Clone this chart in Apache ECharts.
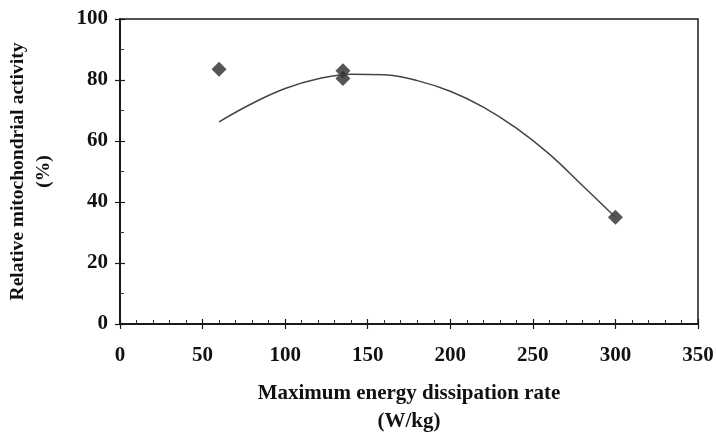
<!DOCTYPE html>
<html>
<head>
<meta charset="utf-8">
<script src="https://cdn.jsdelivr.net/npm/echarts@6/dist/echarts.min.js"></script>
<style>
  html, body { margin: 0; padding: 0; background: #fff; }
  #chart { width: 716px; height: 434px; }
</style>
</head>
<body>
<div id="chart"></div>
<script>
    // measured points (diamonds)
    var pointX = [60, 135, 135, 300];
    var pointY = [83.5, 83, 80.5, 35];
    // fitted trend curve
    var curveX = [60, 80, 100, 120, 140, 160, 180, 200, 220, 240, 260, 280, 300];
    var curveY = [66.3, 72.3, 77.2, 80.4, 81.9, 81.7, 79.8, 76.3, 71.1, 64.2, 55.7, 45.4, 35];
    var xTicks = [0, 50, 100, 150, 200, 250, 300, 350];
    var yTicks = [0, 20, 40, 60, 80, 100];

    var chart = echarts.init(document.getElementById('chart'));
    var axisColor = '#1a1a1a';
    var font = '"Liberation Serif", "DejaVu Serif", serif';

    var points = pointX.map(function (x, i) { return [x, pointY[i]]; });
    var curve = curveX.map(function (x, i) { return [x, curveY[i]]; });

    var xBase = {
        type: 'value',
        min: xTicks[0],
        max: xTicks[xTicks.length - 1],
        interval: 50,
        splitLine: { show: false }
    };
    var yBase = {
        type: 'value',
        min: yTicks[0],
        max: yTicks[yTicks.length - 1],
        interval: 20,
        splitLine: { show: false }
    };

    var option = {
        animation: false,
        grid: {
            left: 120, right: 18, top: 19, bottom: 110,
            outerBoundsMode: 'none',
            containLabel: false,
            show: true,
            borderColor: axisColor,
            borderWidth: 1.5
        },
        xAxis: [
            Object.assign({}, xBase, {
                position: 'bottom',
                name: 'Maximum energy dissipation rate\n(W/kg)',
                nameLocation: 'middle',
                nameGap: 56,
                nameTextStyle: {
                    fontFamily: font, fontWeight: 'bold', fontSize: 21,
                    color: '#111', lineHeight: 28
                },
                axisLine: { show: true, lineStyle: { color: axisColor, width: 2 } },
                axisTick: { show: true, inside: true, length: 5, lineStyle: { color: axisColor, width: 1.2 } },
                minorTick: { show: true, splitNumber: 5, length: 4, lineStyle: { color: '#333', width: 1 } },
                axisLabel: {
                    fontFamily: font, fontWeight: 'bold', fontSize: 21, color: '#111', margin: 21
                }
            }),
            Object.assign({}, xBase, {
                position: 'bottom',
                offset: 0,
                axisLine: { show: false },
                axisTick: { show: true, inside: false, length: 5, lineStyle: { color: axisColor, width: 1.2 } },
                axisLabel: { show: false }
            })
        ],
        yAxis: [
            Object.assign({}, yBase, {
                position: 'left',
                name: 'Relative mitochondrial activity\n(%)',
                nameLocation: 'middle',
                nameGap: 63,
                nameTextStyle: {
                    fontFamily: font, fontWeight: 'bold', fontSize: 19.5,
                    color: '#111', lineHeight: 26
                },
                axisLine: { show: true, lineStyle: { color: axisColor, width: 2 } },
                axisTick: { show: true, inside: true, length: 5, lineStyle: { color: axisColor, width: 1.2 } },
                minorTick: { show: true, splitNumber: 2, length: 4, lineStyle: { color: '#333', width: 1 } },
                axisLabel: {
                    fontFamily: font, fontWeight: 'bold', fontSize: 21, color: '#111', margin: 12
                }
            }),
            Object.assign({}, yBase, {
                position: 'left',
                offset: 0,
                axisLine: { show: false },
                axisTick: { show: true, inside: false, length: 5, lineStyle: { color: axisColor, width: 1.2 } },
                axisLabel: { show: false }
            })
        ],
        series: [{
            type: 'line',
            data: curve,
            smooth: 0.4,
            showSymbol: false,
            lineStyle: { color: '#444', width: 1.5 },
            silent: true
        }, {
            type: 'scatter',
            data: points,
            symbol: 'diamond',
            symbolSize: 15,
            itemStyle: { color: '#2a2a2a' }
        }]
    };

    chart.setOption(option);
</script>
</body>
</html>
